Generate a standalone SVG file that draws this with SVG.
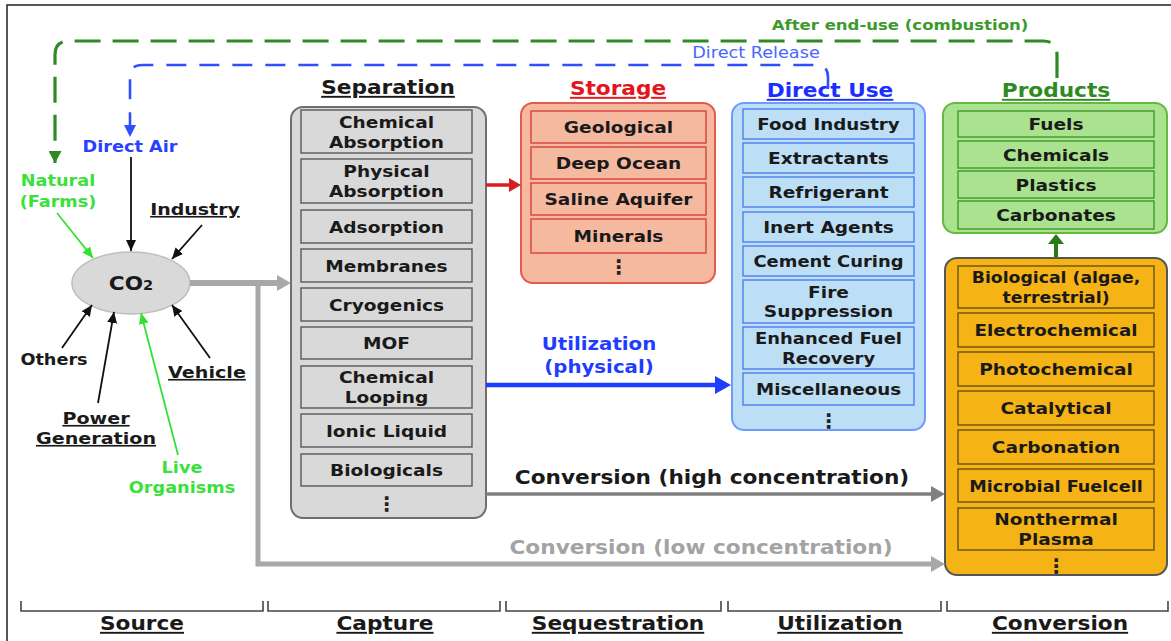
<svg xmlns="http://www.w3.org/2000/svg" width="1171" height="641" viewBox="0 0 1171 641">
<style>
.f{font-family:"DejaVu Sans",Verdana,sans-serif;font-weight:bold;text-anchor:middle}
.it{font-size:16.3px;fill:#1a1a1a}
.ttl{font-size:19px;text-decoration:underline}
.src{font-size:15.5px}
.srcu{font-size:16.5px;fill:#1a1a1a;text-decoration:underline}
.dots{font-size:20px;fill:#222}
.sepO{fill:#d9d9d9;stroke:#6f6f6f;stroke-width:2}
.sepI{fill:#d9d9d9;stroke:#595959;stroke-width:1.4}
.stoO{fill:#f5b9a0;stroke:#e35a50;stroke-width:2}
.stoI{fill:#f5b9a0;stroke:#d8423a;stroke-width:1.4}
.duO{fill:#bcdff6;stroke:#6f9bff;stroke-width:2}
.duI{fill:#bcdff6;stroke:#4d7df0;stroke-width:1.4}
.prO{fill:#abe28f;stroke:#62bb3c;stroke-width:2}
.prI{fill:#abe28f;stroke:#3f9a2a;stroke-width:1.4}
.cvO{fill:#f5b316;stroke:#555;stroke-width:2}
.cvI{fill:#f5b316;stroke:#6a5210;stroke-width:1.4}
.thin{fill:none;stroke:#111;stroke-width:1.8}
.lg{fill:none;stroke:#35e035;stroke-width:1.8}
.brk{fill:none;stroke:#444;stroke-width:1.6}
</style>
<defs>
<marker id="mBk" markerWidth="11" markerHeight="10" refX="11" refY="5" orient="auto" markerUnits="userSpaceOnUse"><path d="M0,0 L11,5 L0,10 z" fill="#111"/></marker>
<marker id="mLg" markerWidth="11" markerHeight="10" refX="11" refY="5" orient="auto" markerUnits="userSpaceOnUse"><path d="M0,0 L11,5 L0,10 z" fill="#35e035"/></marker>
<marker id="mBlD" markerWidth="12" markerHeight="12" refX="12" refY="6" orient="auto" markerUnits="userSpaceOnUse"><path d="M0,0 L12,6 L0,12 z" fill="#2f4fff"/></marker>
<marker id="mGrD" markerWidth="12" markerHeight="13" refX="12" refY="6.5" orient="auto" markerUnits="userSpaceOnUse"><path d="M0,0 L12,6.5 L0,13 z" fill="#2e8a22"/></marker>
<marker id="mGy" markerWidth="14" markerHeight="16" refX="0" refY="8" orient="auto" markerUnits="userSpaceOnUse"><path d="M0,0 L14,8 L0,16 z" fill="#a8a8a8"/></marker>
<marker id="mGy2" markerWidth="14" markerHeight="16" refX="0" refY="8" orient="auto" markerUnits="userSpaceOnUse"><path d="M0,0 L14,8 L0,16 z" fill="#808080"/></marker>
<marker id="mRd" markerWidth="12" markerHeight="14" refX="0" refY="7" orient="auto" markerUnits="userSpaceOnUse"><path d="M0,0 L12,7 L0,14 z" fill="#d42020"/></marker>
<marker id="mBl" markerWidth="16" markerHeight="18" refX="0" refY="9" orient="auto" markerUnits="userSpaceOnUse"><path d="M0,0 L16,9 L0,18 z" fill="#1f3dff"/></marker>
<marker id="mGn" markerWidth="10" markerHeight="16" refX="0" refY="8" orient="auto" markerUnits="userSpaceOnUse"><path d="M0,0 L10,8 L0,16 z" fill="#2a7a1a"/></marker>
</defs>
<rect width="1171" height="641" fill="#fff"/>
<g id="frame"><path d="M7,641 V5 H1171" fill="none" stroke="#222" stroke-width="1.5"/></g>

<g id="co2">
<ellipse cx="131" cy="283" rx="59" ry="31" fill="#d9d9d9" stroke="#bdbdbd" stroke-width="1.5"/>
<text class="f" style="font-size:20px;fill:#1a1a1a" transform="translate(131,290) scale(1.08,1)">CO<tspan style="font-size:13.5px">2</tspan></text>
</g>
<g id="direct-air"><text class="f src" style="fill:#2a3fff" transform="translate(130,152) scale(1.14,1)">Direct Air</text></g>
<g id="natural"><text class="f src" style="fill:#3be03b" transform="translate(58,186) scale(1.14,1)"><tspan x="0">Natural</tspan><tspan x="0" y="21">(Farms)</tspan></text></g>
<g id="industry"><text class="f srcu" transform="translate(195,215) scale(1.15,1)">Industry</text></g>
<g id="others"><text class="f src" style="fill:#1a1a1a" transform="translate(54,365) scale(1.14,1)">Others</text></g>
<g id="power"><text class="f srcu" transform="translate(96,424) scale(1.16,1)"><tspan x="0">Power</tspan><tspan x="0" y="20">Generation</tspan></text></g>
<g id="vehicle"><text class="f srcu" transform="translate(207,378) scale(1.16,1)">Vehicle</text></g>
<g id="live"><text class="f src" style="fill:#3be03b" transform="translate(182,473) scale(1.14,1)"><tspan x="0">Live</tspan><tspan x="0" y="20">Organisms</tspan></text></g>

<g id="separation">
<text class="f ttl" style="fill:#1a1a1a" transform="translate(388,94) scale(1.14,1)">Separation</text>
<rect class="sepO" x="291" y="107" width="195" height="411" rx="12"/>
<rect class="sepI" x="301" y="110" width="171" height="43"/>
<rect class="sepI" x="301" y="159" width="171" height="44"/>
<rect class="sepI" x="301" y="210" width="171" height="33"/>
<rect class="sepI" x="301" y="249" width="171" height="33"/>
<rect class="sepI" x="301" y="288" width="171" height="33"/>
<rect class="sepI" x="301" y="327" width="171" height="32"/>
<rect class="sepI" x="301" y="366" width="171" height="42"/>
<rect class="sepI" x="301" y="414" width="171" height="33"/>
<rect class="sepI" x="301" y="454" width="171" height="32"/>
<text class="f it" transform="translate(386.5,127.5) scale(1.14,1)"><tspan x="0">Chemical</tspan><tspan x="0" y="20.5">Absorption</tspan></text>
<text class="f it" transform="translate(386.5,177) scale(1.14,1)"><tspan x="0">Physical</tspan><tspan x="0" y="20.5">Absorption</tspan></text>
<text class="f it" transform="translate(386.5,232.5) scale(1.14,1)">Adsorption</text>
<text class="f it" transform="translate(386.5,271.5) scale(1.14,1)">Membranes</text>
<text class="f it" transform="translate(386.5,310.5) scale(1.14,1)">Cryogenics</text>
<text class="f it" transform="translate(386.5,349) scale(1.14,1)">MOF</text>
<text class="f it" transform="translate(386.5,383) scale(1.14,1)"><tspan x="0">Chemical</tspan><tspan x="0" y="20">Looping</tspan></text>
<text class="f it" transform="translate(386.5,436.5) scale(1.14,1)">Ionic Liquid</text>
<text class="f it" transform="translate(386.5,476) scale(1.14,1)">Biologicals</text>
<text class="f dots" x="386.5" y="511">⋮</text>
</g>

<g id="storage">
<text class="f ttl" style="fill:#e3141c" transform="translate(618,95) scale(1.14,1)">Storage</text>
<rect class="stoO" x="521" y="103" width="194" height="180" rx="12"/>
<rect class="stoI" x="531" y="111" width="175" height="32"/>
<rect class="stoI" x="531" y="147" width="175" height="32"/>
<rect class="stoI" x="531" y="183" width="175" height="32"/>
<rect class="stoI" x="531" y="219" width="175" height="34"/>
<text class="f it" transform="translate(618.5,133) scale(1.14,1)">Geological</text>
<text class="f it" transform="translate(618.5,169) scale(1.14,1)">Deep Ocean</text>
<text class="f it" transform="translate(618.5,205) scale(1.14,1)">Saline Aquifer</text>
<text class="f it" transform="translate(618.5,242) scale(1.14,1)">Minerals</text>
<text class="f dots" x="618.5" y="274">⋮</text>
</g>

<g id="direct-use">
<text class="f ttl" style="fill:#1a2eff" transform="translate(830,97) scale(1.14,1)">Direct Use</text>
<rect class="duO" x="732" y="103" width="193" height="327" rx="12"/>
<rect class="duI" x="743" y="109" width="171" height="30"/>
<rect class="duI" x="743" y="143" width="171" height="30"/>
<rect class="duI" x="743" y="177" width="171" height="30"/>
<rect class="duI" x="743" y="212" width="171" height="30"/>
<rect class="duI" x="743" y="246" width="171" height="30"/>
<rect class="duI" x="743" y="280" width="171" height="43"/>
<rect class="duI" x="743" y="327" width="171" height="42"/>
<rect class="duI" x="743" y="373" width="171" height="32"/>
<text class="f it" transform="translate(828.5,130) scale(1.12,1)">Food Industry</text>
<text class="f it" transform="translate(828.5,164) scale(1.14,1)">Extractants</text>
<text class="f it" transform="translate(828.5,198) scale(1.14,1)">Refrigerant</text>
<text class="f it" transform="translate(828.5,233) scale(1.14,1)">Inert Agents</text>
<text class="f it" transform="translate(828.5,267) scale(1.1,1)">Cement Curing</text>
<text class="f it" transform="translate(828.5,297.5) scale(1.14,1)"><tspan x="0">Fire</tspan><tspan x="0" y="20">Suppression</tspan></text>
<text class="f it" transform="translate(828.5,344) scale(1.1,1)"><tspan x="0">Enhanced Fuel</tspan><tspan x="0" y="20">Recovery</tspan></text>
<text class="f it" transform="translate(828.5,395) scale(1.12,1)">Miscellaneous</text>
<text class="f dots" x="828.5" y="428">⋮</text>
</g>

<g id="products">
<text class="f ttl" style="fill:#2f8a22" transform="translate(1056,97) scale(1.14,1)">Products</text>
<rect class="prO" x="943" y="103" width="224" height="130" rx="12"/>
<rect class="prI" x="958" y="111" width="196" height="26"/>
<rect class="prI" x="958" y="141" width="196" height="27"/>
<rect class="prI" x="958" y="171" width="196" height="27"/>
<rect class="prI" x="958" y="201" width="196" height="28"/>
<text class="f it" transform="translate(1056,130) scale(1.14,1)">Fuels</text>
<text class="f it" transform="translate(1056,160.5) scale(1.14,1)">Chemicals</text>
<text class="f it" transform="translate(1056,190.5) scale(1.14,1)">Plastics</text>
<text class="f it" transform="translate(1056,221) scale(1.14,1)">Carbonates</text>
</g>

<g id="conversion">
<rect class="cvO" x="945" y="258" width="222" height="317" rx="12"/>
<rect class="cvI" x="958" y="266" width="196" height="42"/>
<rect class="cvI" x="958" y="313" width="196" height="34"/>
<rect class="cvI" x="958" y="352" width="196" height="34"/>
<rect class="cvI" x="958" y="391" width="196" height="34"/>
<rect class="cvI" x="958" y="430" width="196" height="34"/>
<rect class="cvI" x="958" y="469" width="196" height="33"/>
<rect class="cvI" x="958" y="508" width="196" height="42"/>
<text class="f it" transform="translate(1056,283) scale(1.06,1)"><tspan x="0">Biological (algae,</tspan><tspan x="0" y="20">terrestrial)</tspan></text>
<text class="f it" transform="translate(1056,336) scale(1.12,1)">Electrochemical</text>
<text class="f it" transform="translate(1056,375) scale(1.14,1)">Photochemical</text>
<text class="f it" transform="translate(1056,414) scale(1.14,1)">Catalytical</text>
<text class="f it" transform="translate(1056,453) scale(1.14,1)">Carbonation</text>
<text class="f it" transform="translate(1056,491.5) scale(1.08,1)">Microbial Fuelcell</text>
<text class="f it" transform="translate(1056,525) scale(1.14,1)"><tspan x="0">Nonthermal</tspan><tspan x="0" y="20">Plasma</tspan></text>
<text class="f dots" x="1056" y="573">⋮</text>
</g>

<g id="connectors">
<path d="M1057,78 V55 Q1057,41 1043,41 H69 Q55,41 55,55 V163" fill="none" stroke="#2e8a22" stroke-width="3.2" stroke-dasharray="26,12" marker-end="url(#mGrD)"/>
<path d="M828,88 V77 Q828,65 816,65 H142 Q130,65 130,77 V137" fill="none" stroke="#2f4fff" stroke-width="2.6" stroke-dasharray="20,13" marker-end="url(#mBlD)"/>
<path class="thin" d="M131,157 V251" marker-end="url(#mBk)"/>
<path class="lg" d="M57,213 L93,258" marker-end="url(#mLg)"/>
<path class="thin" d="M202,225 L172,259" marker-end="url(#mBk)"/>
<path class="thin" d="M62,348 L92,305" marker-end="url(#mBk)"/>
<path class="thin" d="M98,403 L114,312" marker-end="url(#mBk)"/>
<path class="lg" d="M178,455 L141,313" marker-end="url(#mLg)"/>
<path class="thin" d="M210,358 L172,305" marker-end="url(#mBk)"/>
<path d="M190,283 H277" fill="none" stroke="#a8a8a8" stroke-width="6" marker-end="url(#mGy)"/>
<path d="M258,280 V564 H931" fill="none" stroke="#a8a8a8" stroke-width="5" marker-end="url(#mGy)"/>
<path d="M486,185 H509" fill="none" stroke="#d42020" stroke-width="3.5" marker-end="url(#mRd)"/>
<path d="M486,385 H715" fill="none" stroke="#1f3dff" stroke-width="4.5" marker-end="url(#mBl)"/>
<path d="M486,494 H931" fill="none" stroke="#808080" stroke-width="3.5" marker-end="url(#mGy2)"/>
<path d="M1056,258 V244" fill="none" stroke="#2a7a1a" stroke-width="4" marker-end="url(#mGn)"/>
</g>

<g id="connector-labels">
<text class="f" style="font-size:14.5px;fill:#3c9a2c" transform="translate(900,30) scale(1.14,1)">After end-use (combustion)</text>
<text class="f" style="font-size:15.5px;font-weight:normal;fill:#4a66ff" transform="translate(756,58) scale(1.14,1)">Direct Release</text>
<text class="f" style="font-size:17.5px;fill:#1f3dff" transform="translate(599,350) scale(1.13,1)"><tspan x="0">Utilization</tspan><tspan x="0" y="23">(physical)</tspan></text>
<text class="f" style="font-size:19px;fill:#1a1a1a" transform="translate(712,484) scale(1.14,1)">Conversion (high concentration)</text>
<text class="f" style="font-size:19px;fill:#a3a3a3" transform="translate(701,554) scale(1.14,1)">Conversion (low concentration)</text>
</g>

<g id="stages">
<path class="brk" d="M21,601 V611 H263 V601 M268,601 V611 H500 V601 M506,601 V611 H721 V601 M728,601 V611 H941 V601 M947,601 V611 H1168 V601"/>
<text class="f ttl" style="fill:#1a1a1a" transform="translate(142,630) scale(1.14,1)">Source</text>
<text class="f ttl" style="fill:#1a1a1a" transform="translate(385,630) scale(1.14,1)">Capture</text>
<text class="f ttl" style="fill:#1a1a1a" transform="translate(618,630) scale(1.14,1)">Sequestration</text>
<text class="f ttl" style="fill:#1a1a1a" transform="translate(840,630) scale(1.14,1)">Utilization</text>
<text class="f ttl" style="fill:#1a1a1a" transform="translate(1060,630) scale(1.14,1)">Conversion</text>
</g>
</svg>
